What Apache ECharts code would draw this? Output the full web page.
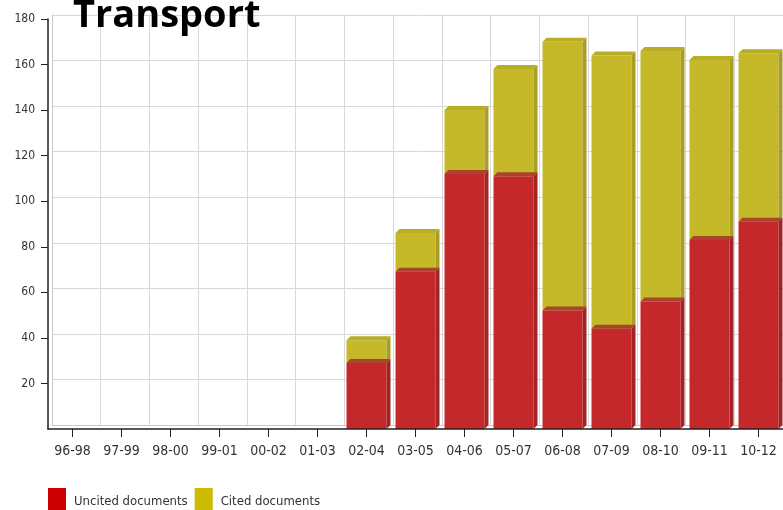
<!DOCTYPE html>
<html>
<head>
<meta charset="utf-8">
<script src="https://cdn.jsdelivr.net/npm/echarts@6/dist/echarts.min.js"></script>
<style>
  html, body { margin: 0; padding: 0; background: #fff; }
  #chart { width: 783px; height: 510px; }
</style>
</head>
<body>
<div id="chart"></div>
<script>
// Document counts per three-year window
const categories = ['96-98', '97-99', '98-00', '99-01', '00-02', '01-03', '02-04', '03-05', '04-06', '05-07', '06-08', '07-09', '08-10', '09-11', '10-12'];
const uncited = [0, 0, 0, 0, 0, 0, 29, 69, 112, 111, 52, 44, 56, 83, 91];
const cited = [0, 0, 0, 0, 0, 0, 10, 17, 28, 47, 118, 120, 110, 79, 74];
const yTicks = [20, 40, 60, 80, 100, 120, 140, 160, 180];

const LABEL_FONT = '"DejaVu Sans Condensed", "Liberation Sans", sans-serif';
const DEPTH = 4;      // offset of the back wall / bar depth
const BAR_W = 40;     // front face width

// Stacked ranges [category, base, top]
const uncitedData = uncited.map((v, i) => [i, 0, v]);
const citedData = cited.map((v, i) => [i, uncited[i], uncited[i] + v]);

function box3d(colors) {
  return function (params, api) {
    const base = api.value(1), top = api.value(2);
    if (top <= base) return null;
    const p0 = api.coord([api.value(0), base]);
    const p1 = api.coord([api.value(0), top]);
    const x = p0[0] - BAR_W / 2, y = p1[1], w = BAR_W, h = p0[1] - p1[1];
    const d = DEPTH;
    return {
      type: 'group',
      children: [
        { type: 'rect', shape: { x: x, y: y, width: w, height: h }, style: { fill: colors.front } },
        { type: 'polygon', shape: { points: [[x + w, y], [x + w + d, y - d], [x + w + d, y + h - d], [x + w, y + h]] }, style: { fill: colors.side } },
        { type: 'polygon', shape: { points: [[x, y], [x + d, y - d], [x + w + d, y - d], [x + w, y]] }, style: { fill: colors.top } }
      ]
    };
  };
}

const chart = echarts.init(document.getElementById('chart'), null, { renderer: 'canvas' });

const yMin = 0, yMax = yTicks[yTicks.length - 1], yStep = yTicks[1] - yTicks[0];

chart.setOption({
  animation: false,
  backgroundColor: '#fff',
  graphic: [{
    type: 'text',
    left: 73,
    top: -3,
    z: 100,
    style: { text: 'Transport', font: 'bold 38px "Open Sans", "Noto Sans", sans-serif', fill: '#000' }
  }],
  legend: {
    left: 48,
    top: 488,
    padding: 0,
    itemWidth: 18,
    itemHeight: 28,
    itemGap: 7,
    icon: 'rect',
    textStyle: { fontFamily: LABEL_FONT, fontSize: 13, color: '#333', padding: [0, 0, 0, 3] },
    data: ['Uncited documents', 'Cited documents']
  },
  grid: [
    { left: 48, top: 19, width: 741, height: 410 },
    { left: 48 + DEPTH, top: 19 - DEPTH, width: 741, height: 410 }
  ],
  xAxis: [
    {
      type: 'category', gridIndex: 0, data: categories, boundaryGap: true, z: 5,
      axisLine: { show: true, lineStyle: { color: '#222', width: 1.5 } },
      axisTick: { show: true, alignWithLabel: true, length: 8, lineStyle: { color: '#222' } },
      axisLabel: { fontFamily: LABEL_FONT, fontSize: 14, color: '#333', margin: 15, interval: 0 },
      splitLine: { show: false }
    },
    {
      type: 'category', gridIndex: 1, data: categories, boundaryGap: true,
      axisLine: { show: true, lineStyle: { color: '#c8c8c8', width: 1 } },
      axisTick: { show: false }, axisLabel: { show: false },
      splitLine: { show: true, lineStyle: { color: '#d8d8d8', width: 1 } }
    }
  ],
  yAxis: [
    {
      type: 'value', gridIndex: 0, min: yMin, max: yMax, interval: yStep, z: 5,
      axisLine: { show: true, lineStyle: { color: '#222', width: 1.5 } },
      axisTick: { show: true, length: 7, customValues: yTicks, lineStyle: { color: '#222' } },
      axisLabel: { fontFamily: LABEL_FONT, fontSize: 12, color: '#333', margin: 13, customValues: yTicks },
      splitLine: { show: false }
    },
    {
      type: 'value', gridIndex: 1, min: yMin, max: yMax, interval: yStep,
      axisLine: { show: true, lineStyle: { color: '#c8c8c8', width: 1 } },
      axisTick: { show: false }, axisLabel: { show: false },
      splitLine: { show: true, lineStyle: { color: '#d8d8d8', width: 1 } }
    }
  ],
  series: [
    {
      name: 'Cited documents',
      type: 'custom',
      xAxisIndex: 0, yAxisIndex: 0,
      itemStyle: { color: '#ccbb00' },
      encode: { x: 0, y: [1, 2] },
      renderItem: box3d({ front: '#c5b829', side: '#a99d22', top: '#b9ad27' }),
      data: citedData,
      z: 2
    },
    {
      name: 'Uncited documents',
      type: 'custom',
      xAxisIndex: 0, yAxisIndex: 0,
      itemStyle: { color: '#cc0000' },
      encode: { x: 0, y: [1, 2] },
      renderItem: box3d({ front: '#c4282a', side: '#a32225', top: '#a8452a' }),
      data: uncitedData,
      z: 3
    }
  ]
});
</script>
</body>
</html>
